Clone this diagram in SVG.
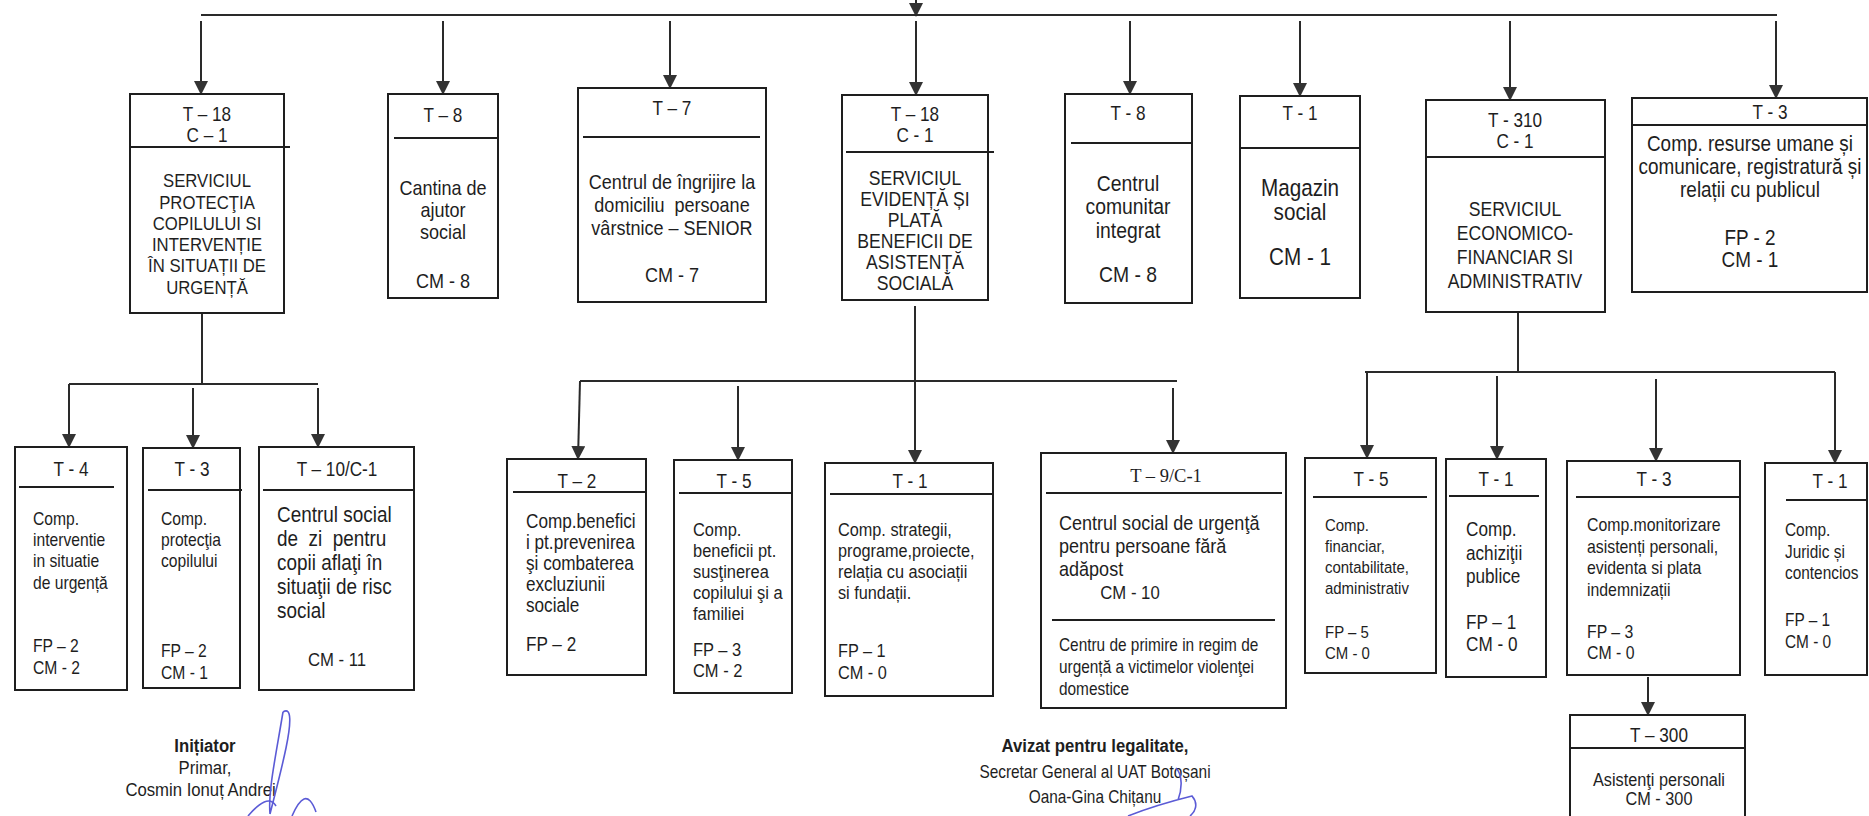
<svg xmlns="http://www.w3.org/2000/svg" width="1869" height="816" viewBox="0 0 1869 816" style="font-size:18.5px">
<style>
.box{fill:#fff;stroke:#1e1e1e;stroke-width:2}
.dv{stroke:#1e1e1e;stroke-width:2;fill:none}
.ln{stroke:#2a2a2a;stroke-width:2;fill:none}
.ar{stroke:#2a2a2a;stroke-width:2;fill:none;marker-end:url(#ah)}
text{font-family:"Liberation Sans",Arial,sans-serif;fill:#1e1e1e}
.c{text-anchor:middle}
.lb{font-size:19.5px}
.tm{font-family:"Liberation Serif","Times New Roman",serif;font-size:18.5px}
.sg{text-anchor:middle}
.bold{font-weight:bold}
.sig{stroke:#5b5bd6;stroke-width:1.6;fill:none}
</style>
<defs>
<marker id="ah" viewBox="0 0 14 14" refX="13" refY="7" markerWidth="14" markerHeight="14" markerUnits="userSpaceOnUse" orient="auto">
<path d="M0,0 L14,7 L0,14 z" fill="#333"/>
</marker>
</defs>

<g id="connectors">
<line class="ar" x1="916" y1="0" x2="916" y2="16"/>
<line class="ln" x1="201" y1="15" x2="1777" y2="15"/>
<line class="ar" x1="201" y1="21" x2="201" y2="94"/>
<line class="ar" x1="443" y1="21" x2="443" y2="94"/>
<line class="ar" x1="670" y1="21" x2="670" y2="88"/>
<line class="ar" x1="916" y1="21" x2="916" y2="95"/>
<line class="ar" x1="1130" y1="21" x2="1130" y2="94"/>
<line class="ar" x1="1300" y1="21" x2="1300" y2="96"/>
<line class="ar" x1="1510" y1="21" x2="1510" y2="100"/>
<line class="ar" x1="1776" y1="21" x2="1776" y2="98"/>

<line class="ln" x1="202" y1="313" x2="202" y2="384"/>
<line class="ln" x1="69" y1="384" x2="318" y2="384"/>
<line class="ar" x1="69" y1="384" x2="69" y2="447"/>
<line class="ar" x1="193" y1="388" x2="193" y2="448"/>
<line class="ar" x1="318" y1="388" x2="318" y2="447"/>

<line class="ar" x1="915" y1="306" x2="915" y2="463"/>
<line class="ln" x1="580" y1="381" x2="1177" y2="381"/>
<line class="ar" x1="580" y1="381" x2="578" y2="459"/>
<line class="ar" x1="738" y1="386" x2="738" y2="460"/>
<line class="ar" x1="1173" y1="388" x2="1173" y2="453"/>

<line class="ln" x1="1518" y1="312" x2="1518" y2="372"/>
<line class="ln" x1="1365" y1="372" x2="1835" y2="372"/>
<line class="ar" x1="1367" y1="372" x2="1367" y2="458"/>
<line class="ar" x1="1497" y1="376" x2="1497" y2="459"/>
<line class="ar" x1="1656" y1="379" x2="1656" y2="461"/>
<line class="ar" x1="1835" y1="372" x2="1835" y2="463"/>
<line class="ar" x1="1648" y1="677" x2="1648" y2="715"/>
</g>

<g id="n-protectia">
<rect class="box" x="130" y="94" width="154" height="219"/>
<line class="dv" x1="130" y1="147" x2="290" y2="147"/>
<g transform="matrix(0.88 0 0 1 24.84 0)">
<text class="c lb" x="207" y="121">T – 18</text>
<text class="c lb" x="207" y="142">C – 1</text>
<g style="font-size:19px">
<text class="c" x="207" y="187">SERVICIUL</text>
<text class="c" x="207" y="209">PROTECŢIA</text>
<text class="c" x="207" y="230">COPILULUI SI</text>
<text class="c" x="207" y="251">INTERVENȚIE</text>
<text class="c" x="207" y="272">ÎN SITUAȚII DE</text>
<text class="c" x="207" y="294">URGENȚĂ</text>
</g>
</g>
</g>

<g id="n-cantina">
<rect class="box" x="388" y="94" width="110" height="204"/>
<line class="dv" x1="394" y1="138" x2="498" y2="138"/>
<g transform="matrix(0.88 0 0 1 53.16 0)">
<text class="c lb" x="443" y="122">T – 8</text>
<g style="font-size:20.5px">
<text class="c" x="443" y="195">Cantina de</text>
<text class="c" x="443" y="217">ajutor</text>
<text class="c" x="443" y="239">social</text>
<text class="c" x="443" y="288">CM - 8</text>
</g>
</g>
</g>

<g id="n-senior">
<rect class="box" x="578" y="88" width="188" height="214"/>
<line class="dv" x1="583" y1="137" x2="760" y2="137"/>
<g transform="matrix(0.88 0 0 1 80.64 0)">
<text class="c lb" x="672" y="115">T – 7</text>
<g style="font-size:20.5px">
<text class="c" x="672" y="189">Centrul de îngrijire la</text>
<text class="c" x="672" y="212">domiciliu&#160; persoane</text>
<text class="c" x="672" y="235">vârstnice – SENIOR</text>
<text class="c" x="672" y="282">CM - 7</text>
</g>
</g>
</g>

<g id="n-evidenta">
<rect class="box" x="842" y="95" width="146" height="205"/>
<line class="dv" x1="846" y1="152" x2="994" y2="152"/>
<g transform="matrix(0.88 0 0 1 109.8 0)">
<text class="c lb" x="915" y="121">T – 18</text>
<text class="c lb" x="915" y="142">C - 1</text>
<g style="font-size:20px">
<text class="c" x="915" y="185">SERVICIUL</text>
<text class="c" x="915" y="206">EVIDENȚĂ ȘI</text>
<text class="c" x="915" y="227">PLATĂ</text>
<text class="c" x="915" y="248">BENEFICII DE</text>
<text class="c" x="915" y="269">ASISTENȚĂ</text>
<text class="c" x="915" y="290">SOCIALĂ</text>
</g>
</g>
</g>

<g id="n-comunitar">
<rect class="box" x="1065" y="94" width="127" height="209"/>
<line class="dv" x1="1071" y1="143" x2="1191" y2="143"/>
<g transform="matrix(0.88 0 0 1 135.36 0)">
<text class="c lb" x="1128" y="120">T - 8</text>
<g style="font-size:22px">
<text class="c" x="1128" y="191">Centrul</text>
<text class="c" x="1128" y="214">comunitar</text>
<text class="c" x="1128" y="238">integrat</text>
<text class="c" x="1128" y="282">CM - 8</text>
</g>
</g>
</g>

<g id="n-magazin">
<rect class="box" x="1240" y="96" width="120" height="202"/>
<line class="dv" x1="1240" y1="148" x2="1360" y2="148"/>
<g transform="matrix(0.88 0 0 1 156 0)">
<text class="c lb" x="1300" y="120">T - 1</text>
<g style="font-size:23.5px">
<text class="c" x="1300" y="196">Magazin</text>
<text class="c" x="1300" y="220">social</text>
<text class="c" x="1300" y="265">CM - 1</text>
</g>
</g>
</g>

<g id="n-economic">
<rect class="box" x="1426" y="100" width="179" height="212"/>
<line class="dv" x1="1426" y1="157" x2="1605" y2="157"/>
<g transform="matrix(0.88 0 0 1 181.8 0)">
<text class="c lb" x="1515" y="127">T - 310</text>
<text class="c lb" x="1515" y="148">C - 1</text>
<g style="font-size:20px">
<text class="c" x="1515" y="216">SERVICIUL</text>
<text class="c" x="1515" y="240">ECONOMICO-</text>
<text class="c" x="1515" y="264">FINANCIAR SI</text>
<text class="c" x="1515" y="288">ADMINISTRATIV</text>
</g>
</g>
</g>

<g id="n-resurse">
<rect class="box" x="1632" y="98" width="235" height="194"/>
<line class="dv" x1="1632" y1="125" x2="1867" y2="125"/>
<g transform="matrix(0.88 0 0 1 212.4 0)">
<text class="c lb" x="1770" y="119">T - 3</text>
</g>
<g transform="matrix(0.88 0 0 1 210 0)" style="font-size:21.5px">
<text class="c" x="1750" y="151">Comp. resurse umane și</text>
<text class="c" x="1750" y="174">comunicare, registratură și</text>
<text class="c" x="1750" y="197">relații cu publicul</text>
<text class="c" x="1750" y="245">FP - 2</text>
<text class="c" x="1750" y="267">CM - 1</text>
</g>
</g>

<g id="n-interventie">
<rect class="box" x="15" y="447" width="112" height="243"/>
<line class="dv" x1="19" y1="487" x2="114" y2="487"/>
<g transform="matrix(0.88 0 0 1 8.52 0)"><text class="c lb" x="71" y="476">T - 4</text></g>
<g transform="matrix(0.88 0 0 1 3.96 0)" style="font-size:17.8px">
<text x="33" y="525">Comp.</text>
<text x="33" y="546">interventie</text>
<text x="33" y="567">in situatie</text>
<text x="33" y="589">de urgență</text>
<text x="33" y="652">FP – 2</text>
<text x="33" y="674">CM - 2</text>
</g>
</g>

<g id="n-protectie">
<rect class="box" x="143" y="448" width="97" height="240"/>
<line class="dv" x1="148" y1="490" x2="242" y2="490"/>
<g transform="matrix(0.88 0 0 1 23.04 0)"><text class="c lb" x="192" y="476">T - 3</text></g>
<g transform="matrix(0.88 0 0 1 19.32 0)" style="font-size:17.8px">
<text x="161" y="525">Comp.</text>
<text x="161" y="546">protecţia</text>
<text x="161" y="567">copilului</text>
<text x="161" y="657">FP – 2</text>
<text x="161" y="679">CM - 1</text>
</g>
</g>

<g id="n-centru-zi">
<rect class="box" x="259" y="447" width="155" height="243"/>
<line class="dv" x1="263" y1="490" x2="413" y2="490"/>
<g transform="matrix(0.88 0 0 1 40.44 0)">
<text class="c lb" x="337" y="476">T – 10/C-1</text>
<text class="c" x="337" y="666" style="font-size:19px">CM - 11</text>
</g>
<g transform="matrix(0.88 0 0 1 33.24 0)" style="font-size:21.5px">
<text x="277" y="522">Centrul social</text>
<text x="277" y="546">de&#160; zi&#160; pentru</text>
<text x="277" y="570">copii aflaţi în</text>
<text x="277" y="594">situaţii de risc</text>
<text x="277" y="618">social</text>
</g>
</g>

<g id="n-excluziune">
<rect class="box" x="507" y="459" width="139" height="216"/>
<line class="dv" x1="513" y1="492" x2="645" y2="492"/>
<g transform="matrix(0.88 0 0 1 69.24 0)"><text class="c lb" x="577" y="488">T – 2</text></g>
<g transform="matrix(0.88 0 0 1 63.12 0)" style="font-size:19.5px">
<text x="526" y="528">Comp.benefici</text>
<text x="526" y="549">i pt.prevenirea</text>
<text x="526" y="570">şi combaterea</text>
<text x="526" y="591">excluziunii</text>
<text x="526" y="612">sociale</text>
<text x="526" y="651">FP – 2</text>
</g>
</g>

<g id="n-familie">
<rect class="box" x="674" y="460" width="118" height="233"/>
<line class="dv" x1="679" y1="493" x2="793" y2="493"/>
<g transform="matrix(0.88 0 0 1 88.08 0)"><text class="c lb" x="734" y="488">T - 5</text></g>
<g transform="matrix(0.88 0 0 1 83.16 0)" style="font-size:18.7px">
<text x="693" y="536">Comp.</text>
<text x="693" y="557">beneficii pt.</text>
<text x="693" y="578">susţinerea</text>
<text x="693" y="599">copilului şi a</text>
<text x="693" y="620">familiei</text>
<text x="693" y="656">FP – 3</text>
<text x="693" y="677">CM - 2</text>
</g>
</g>

<g id="n-strategii">
<rect class="box" x="825" y="463" width="168" height="233"/>
<line class="dv" x1="830" y1="494" x2="993" y2="494"/>
<g transform="matrix(0.88 0 0 1 109.2 0)"><text class="c lb" x="910" y="488">T - 1</text></g>
<g transform="matrix(0.88 0 0 1 100.56 0)" style="font-size:18.5px">
<text x="838" y="536">Comp. strategii,</text>
<text x="838" y="557">programe,proiecte,</text>
<text x="838" y="578">relația cu asociații</text>
<text x="838" y="599">si fundații.</text>
<text x="838" y="657">FP – 1</text>
<text x="838" y="679">CM - 0</text>
</g>
</g>

<g id="n-adapost">
<rect class="box" x="1041" y="453" width="245" height="255"/>
<line class="dv" x1="1046" y1="493" x2="1282" y2="493"/>
<line class="dv" x1="1052" y1="620" x2="1275" y2="620"/>
<text class="c tm" x="1166" y="482">T – 9/C-1</text>
<g transform="matrix(0.88 0 0 1 127.08 0)">
<g style="font-size:20.5px">
<text x="1059" y="530">Centrul social de urgenţă</text>
<text x="1059" y="553">pentru persoane fără</text>
<text x="1059" y="576">adăpost</text>
</g>
<g style="font-size:17.5px">
<text x="1059" y="651">Centru de primire in regim de</text>
<text x="1059" y="673">urgență a victimelor violenţei</text>
<text x="1059" y="695">domestice</text>
</g>
</g>
<g transform="matrix(0.88 0 0 1 135.6 0)"><text class="c" x="1130" y="599" style="font-size:19px">CM - 10</text></g>
</g>

<g id="n-financiar">
<rect class="box" x="1305" y="458" width="131" height="215"/>
<line class="dv" x1="1313" y1="497" x2="1427" y2="497"/>
<g transform="matrix(0.88 0 0 1 164.52 0)"><text class="c lb" x="1371" y="486">T - 5</text></g>
<g transform="matrix(0.88 0 0 1 159 0)" style="font-size:17px">
<text x="1325" y="531">Comp.</text>
<text x="1325" y="552">financiar,</text>
<text x="1325" y="573">contabilitate,</text>
<text x="1325" y="594">administrativ</text>
<text x="1325" y="638">FP – 5</text>
<text x="1325" y="659">CM - 0</text>
</g>
</g>

<g id="n-achizitii">
<rect class="box" x="1446" y="459" width="100" height="218"/>
<line class="dv" x1="1449" y1="496" x2="1539" y2="496"/>
<g transform="matrix(0.88 0 0 1 179.52 0)"><text class="c lb" x="1496" y="486">T - 1</text></g>
<g transform="matrix(0.88 0 0 1 175.92 0)" style="font-size:19.5px">
<text x="1466" y="536">Comp.</text>
<text x="1466" y="560">achiziţii</text>
<text x="1466" y="583">publice</text>
<text x="1466" y="629">FP – 1</text>
<text x="1466" y="651">CM - 0</text>
</g>
</g>

<g id="n-monitorizare">
<rect class="box" x="1567" y="461" width="173" height="214"/>
<line class="dv" x1="1576" y1="497" x2="1739" y2="497"/>
<g transform="matrix(0.88 0 0 1 198.48 0)"><text class="c lb" x="1654" y="486">T - 3</text></g>
<g transform="matrix(0.88 0 0 1 190.44 0)" style="font-size:18px">
<text x="1587" y="531">Comp.monitorizare</text>
<text x="1587" y="553">asistenți personali,</text>
<text x="1587" y="574">evidenta si plata</text>
<text x="1587" y="596">indemnizații</text>
<text x="1587" y="638">FP – 3</text>
<text x="1587" y="659">CM - 0</text>
</g>
</g>

<g id="n-juridic">
<rect class="box" x="1765" y="463" width="102" height="212"/>
<line class="dv" x1="1786" y1="500" x2="1867" y2="500"/>
<g transform="matrix(0.88 0 0 1 219.6 0)"><text class="c lb" x="1830" y="488">T - 1</text></g>
<g transform="matrix(0.88 0 0 1 214.2 0)" style="font-size:17.5px">
<text x="1785" y="536">Comp.</text>
<text x="1785" y="558">Juridic și</text>
<text x="1785" y="579">contencios</text>
<text x="1785" y="626">FP – 1</text>
<text x="1785" y="648">CM - 0</text>
</g>
</g>

<g id="n-asistenti">
<rect class="box" x="1570" y="715" width="175" height="110"/>
<line class="dv" x1="1570" y1="748" x2="1745" y2="748"/>
<g transform="matrix(0.88 0 0 1 199.08 0)">
<text class="c lb" x="1659" y="742">T – 300</text>
<text class="c" x="1659" y="786" style="font-size:18.5px">Asistenţi personali</text>
<text class="c" x="1659" y="805" style="font-size:18.5px">CM - 300</text>
</g>
</g>

<g id="semnaturi">
<g transform="matrix(0.88 0 0 1 24.6 0)">
<text class="sg bold" x="205" y="752" style="font-size:19px">Inițiator</text>
<text class="sg" x="205" y="774" style="font-size:19px">Primar,</text>
<text class="sg" x="200" y="796" style="font-size:19px">Cosmin Ionuț Andrei</text>
</g>
<g transform="matrix(0.88 0 0 1 131.4 0)">
<text class="sg bold" x="1095" y="752" style="font-size:19px">Avizat pentru legalitate,</text>
<text class="sg" x="1095" y="778" style="font-size:17.5px">Secretar General al UAT Botoșani</text>
<text class="sg" x="1095" y="803" style="font-size:17.5px">Oana-Gina Chițanu</text>
</g>
<path class="sig" d="M283,712 C292,706 291,724 286,748 C281,772 275,794 270,814 M270,814 C268,792 275,760 283,712"/>
<path class="sig" d="M248,816 C260,802 270,796 276,806 M292,816 C300,798 308,790 316,812"/>
<path class="sig" d="M1176,768 C1183,775 1182,790 1178,800 M1128,816 C1148,808 1172,801 1192,796 C1199,804 1195,812 1190,816"/>
</g>
</svg>
